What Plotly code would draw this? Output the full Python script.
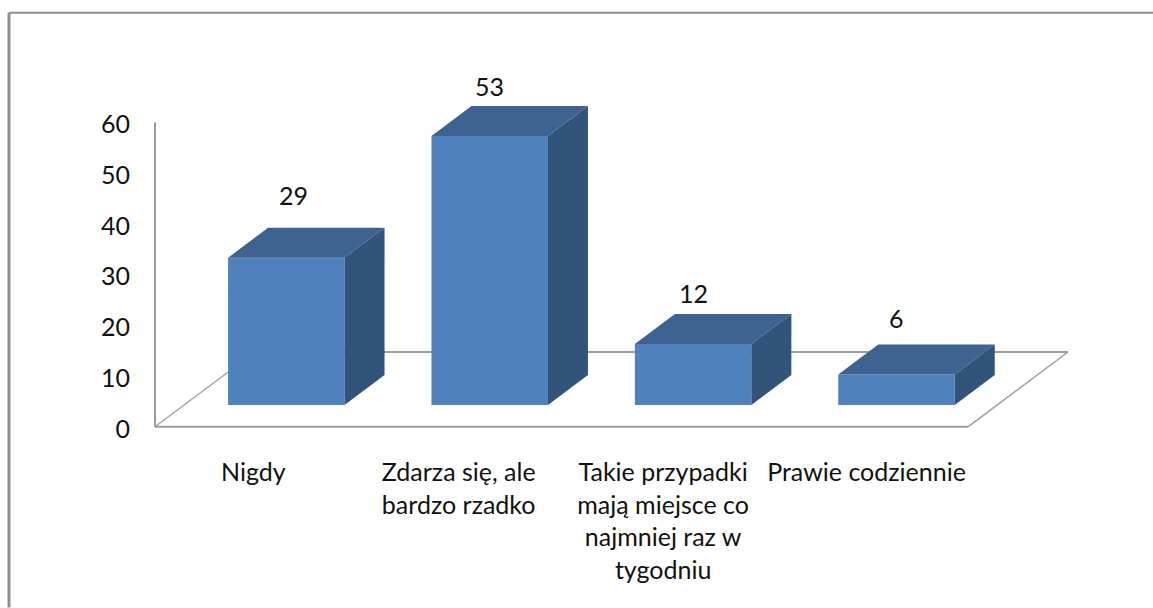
import plotly.graph_objects as go

categories = ["Nigdy", "Zdarza się, ale<br>bardzo rzadko",
              "Takie przypadki<br>mają miejsce co<br>najmniej raz w<br>tygodniu",
              "Prawie codziennie"]
values = [29, 53, 12, 6]
y_ticks = [0, 10, 20, 30, 40, 50, 60]

# Pixel layout of the pseudo-3D plot box
W, H = 1153, 608
PX_WALL, PX_RIGHT, PX_SIXTY, PX_ZERO = 155, 1100, 122, 427
PX_LEFT = 148          # plot area starts a little left of the wall so lines are not clipped
PITCH = 203.4          # px per category
UNIT = (PX_ZERO - PX_SIXTY) / 60   # px per value unit
FIRST_CENTER = 286.3   # px of first bar centre
BAR_W = 116.5 / PITCH  # bar width in category units
DX = 40 / PITCH        # depth offset, x
DY = 30 / UNIT         # depth offset, y
BASE = 22 / UNIT       # front of the bars above the front floor edge
FLOOR_DX = 100 / PITCH
FLOOR_DY = 75 / UNIT
Y_MIN, Y_MAX = -2, 66
tick_shift_px = [-33, -31, -30, -30]
label_shift_px = [7, 0, 0, 0]
label_rise_px = [63, 50, 51, 56]

x_left = (PX_LEFT - FIRST_CENTER) / PITCH
x_wall = (PX_WALL - FIRST_CENTER) / PITCH
x_max = (PX_RIGHT - FIRST_CENTER) / PITCH
floor_right = (968 - FIRST_CENTER) / PITCH
xs = list(range(len(values)))

FRONT, TOP, SIDE = "#4F81BD", "#3E6390", "#32537A"
GRID = "#9C9C9C"
FRAME = "#8E8E8E"
FONT = dict(family="Lato, Carlito, sans-serif", size=25, color="#111111")

fig = go.Figure()
fig.add_bar(x=xs, y=values, base=[BASE] * len(values), width=BAR_W,
            marker=dict(color=FRONT, line=dict(width=0)), cliponaxis=False,
            hoverinfo="skip", showlegend=False)

for x, v in zip(xs, values):
    l, r = x - BAR_W / 2, x + BAR_W / 2
    b, t = BASE, BASE + v
    fig.add_scatter(x=[l, r, r + DX, l + DX, l], y=[t, t, t + DY, t + DY, t],
                    fill="toself", fillcolor=TOP, mode="lines",
                    line=dict(width=0, color=TOP), cliponaxis=False,
                    hoverinfo="skip", showlegend=False)
    fig.add_scatter(x=[r, r + DX, r + DX, r, r], y=[b, b + DY, t + DY, t, b],
                    fill="toself", fillcolor=SIDE, mode="lines",
                    line=dict(width=0, color=SIDE), cliponaxis=False,
                    hoverinfo="skip", showlegend=False)

annotations = [
    dict(x=x, y=BASE + v, xref="x", yref="y", text=str(v), showarrow=False,
         font=FONT, xshift=s, yshift=rise, xanchor="center", yanchor="middle")
    for x, v, s, rise in zip(xs, values, label_shift_px, label_rise_px)
]


def seg(x0, y0, x1, y1, width):
    return dict(type="line", xref="x", yref="y", x0=x0, y0=y0, x1=x1, y1=y1,
                layer="below", line=dict(color=GRID, width=width))


shapes = [
    seg(x_wall, 0, x_wall, 60, 2),
    seg(x_wall, 0, floor_right, 0, 2),
    seg(floor_right, 0, floor_right + FLOOR_DX, FLOOR_DY, 1.5),
    seg(x_wall + FLOOR_DX, FLOOR_DY, floor_right + FLOOR_DX, FLOOR_DY, 2),
    seg(x_wall, 0, x_wall + FLOOR_DX, FLOOR_DY, 1.2),
]
PX_TOP = PX_ZERO - Y_MAX * UNIT
PX_BOTTOM = PX_ZERO - Y_MIN * UNIT
plot_w = PX_RIGHT - PX_LEFT
plot_h = PX_BOTTOM - PX_TOP
fx = (9 - PX_LEFT) / plot_w
fy = (PX_BOTTOM - 12) / plot_h
fr = (W - PX_LEFT) / plot_w
fb = (PX_BOTTOM - H) / plot_h
shapes += [
    dict(type="line", xref="paper", yref="paper", x0=fx, y0=fy, x1=fx, y1=fb,
         line=dict(color=FRAME, width=3)),
    dict(type="line", xref="paper", yref="paper", x0=fx, y0=fy, x1=fr, y1=fy,
         line=dict(color=FRAME, width=2)),
]

fig.update_layout(
    width=W, height=H, autosize=False,
    margin=dict(l=PX_LEFT, r=W - PX_RIGHT, t=PX_TOP, b=H - PX_BOTTOM, pad=0),
    paper_bgcolor="white", plot_bgcolor="rgba(0,0,0,0)",
    font=FONT, showlegend=False, barmode="overlay",
    annotations=annotations, shapes=shapes,
    xaxis=dict(range=[x_left, x_max], showgrid=False, zeroline=False, showline=False,
               tickmode="array",
               tickvals=[x + s / PITCH for x, s in zip(xs, tick_shift_px)],
               ticktext=categories, ticks="", ticklabelstandoff=18, tickangle=0,
               tickfont=FONT, fixedrange=True),
    yaxis=dict(range=[Y_MIN, Y_MAX], showgrid=False, zeroline=False, showline=False,
               tickmode="array", tickvals=y_ticks, ticklabelshift=2,
               ticks="", ticklabelstandoff=17, tickfont=FONT, fixedrange=True),
)

fig.write_html("out.html", config=dict(displayModeBar=False),
               post_script="document.body.style.margin='0';document.body.style.overflow='hidden';")
